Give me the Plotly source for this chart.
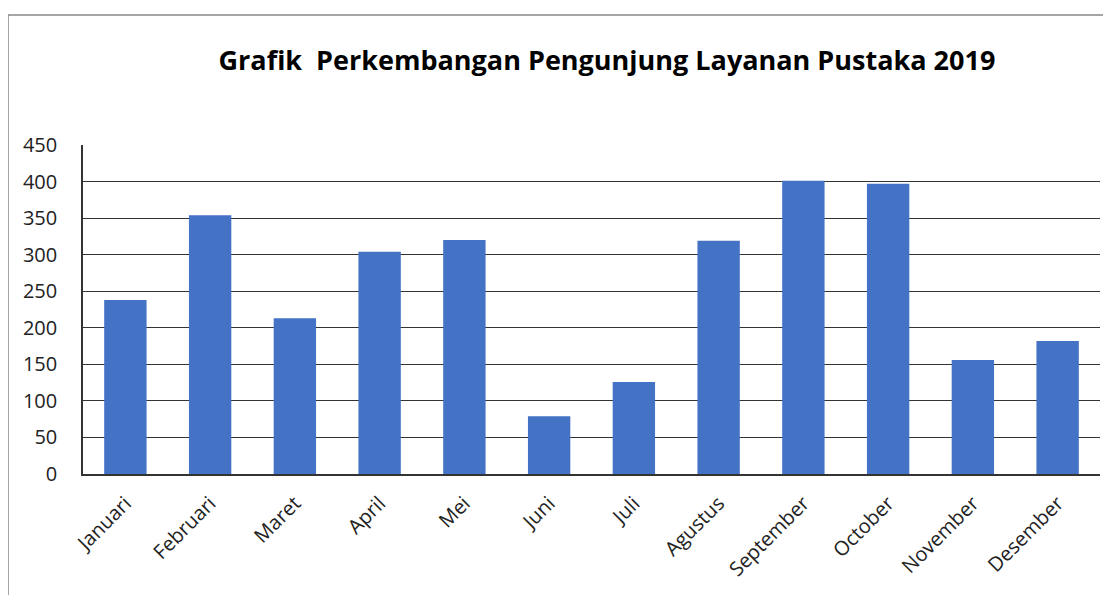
import plotly.graph_objects as go

months = ["Januari", "Februari", "Maret", "April", "Mei", "Juni", "Juli",
          "Agustus", "September", "October", "November", "Desember"]
visitors = [238, 354, 213, 304, 320, 79, 126, 319, 401, 397, 156, 182]
y_ticks = [0, 50, 100, 150, 200, 250, 300, 350, 400, 450]

fig = go.Figure()
fig.add_trace(go.Bar(
    x=months, y=visitors,
    marker=dict(color="#4472C4", line=dict(width=0)),
))

fig.update_layout(
    width=1103, height=587,
    paper_bgcolor="white", plot_bgcolor="white",
    margin=dict(l=75, r=11, t=137, b=121, autoexpand=False),
    bargap=0.5,
    showlegend=False,
    title=dict(
        text="<b>Grafik  Perkembangan Pengunjung Layanan Pustaka 2019</b>",
        x=0.543, xanchor="center", y=0.91, yanchor="middle",
        font=dict(family="Open Sans", size=27, color="black"),
    ),
    font=dict(family="Open Sans", color="#222"),
    xaxis=dict(
        showline=True, linecolor="#333", linewidth=1.5,
        tickangle=-45, tickfont=dict(size=20, color="#222"),
        ticks="", ticklabelstandoff=8, automargin=False,
    ),
    yaxis=dict(
        range=[0, 450], tickvals=y_ticks,
        showgrid=True, gridcolor="#333", gridwidth=1,
        showline=True, linecolor="#333", linewidth=1.5,
        tickfont=dict(size=20, color="#222"),
        ticks="", ticklabelstandoff=20, zeroline=False, automargin=False,
    ),
    shapes=[dict(type="rect", xref="paper", yref="paper",
                 x0=-75/1017, x1=1.1, y0=-0.5, y1=1 + 130/329,
                 line=dict(color="#888", width=1.5), fillcolor="rgba(0,0,0,0)",
                 layer="below")],
)

fig.write_html("out.html")
